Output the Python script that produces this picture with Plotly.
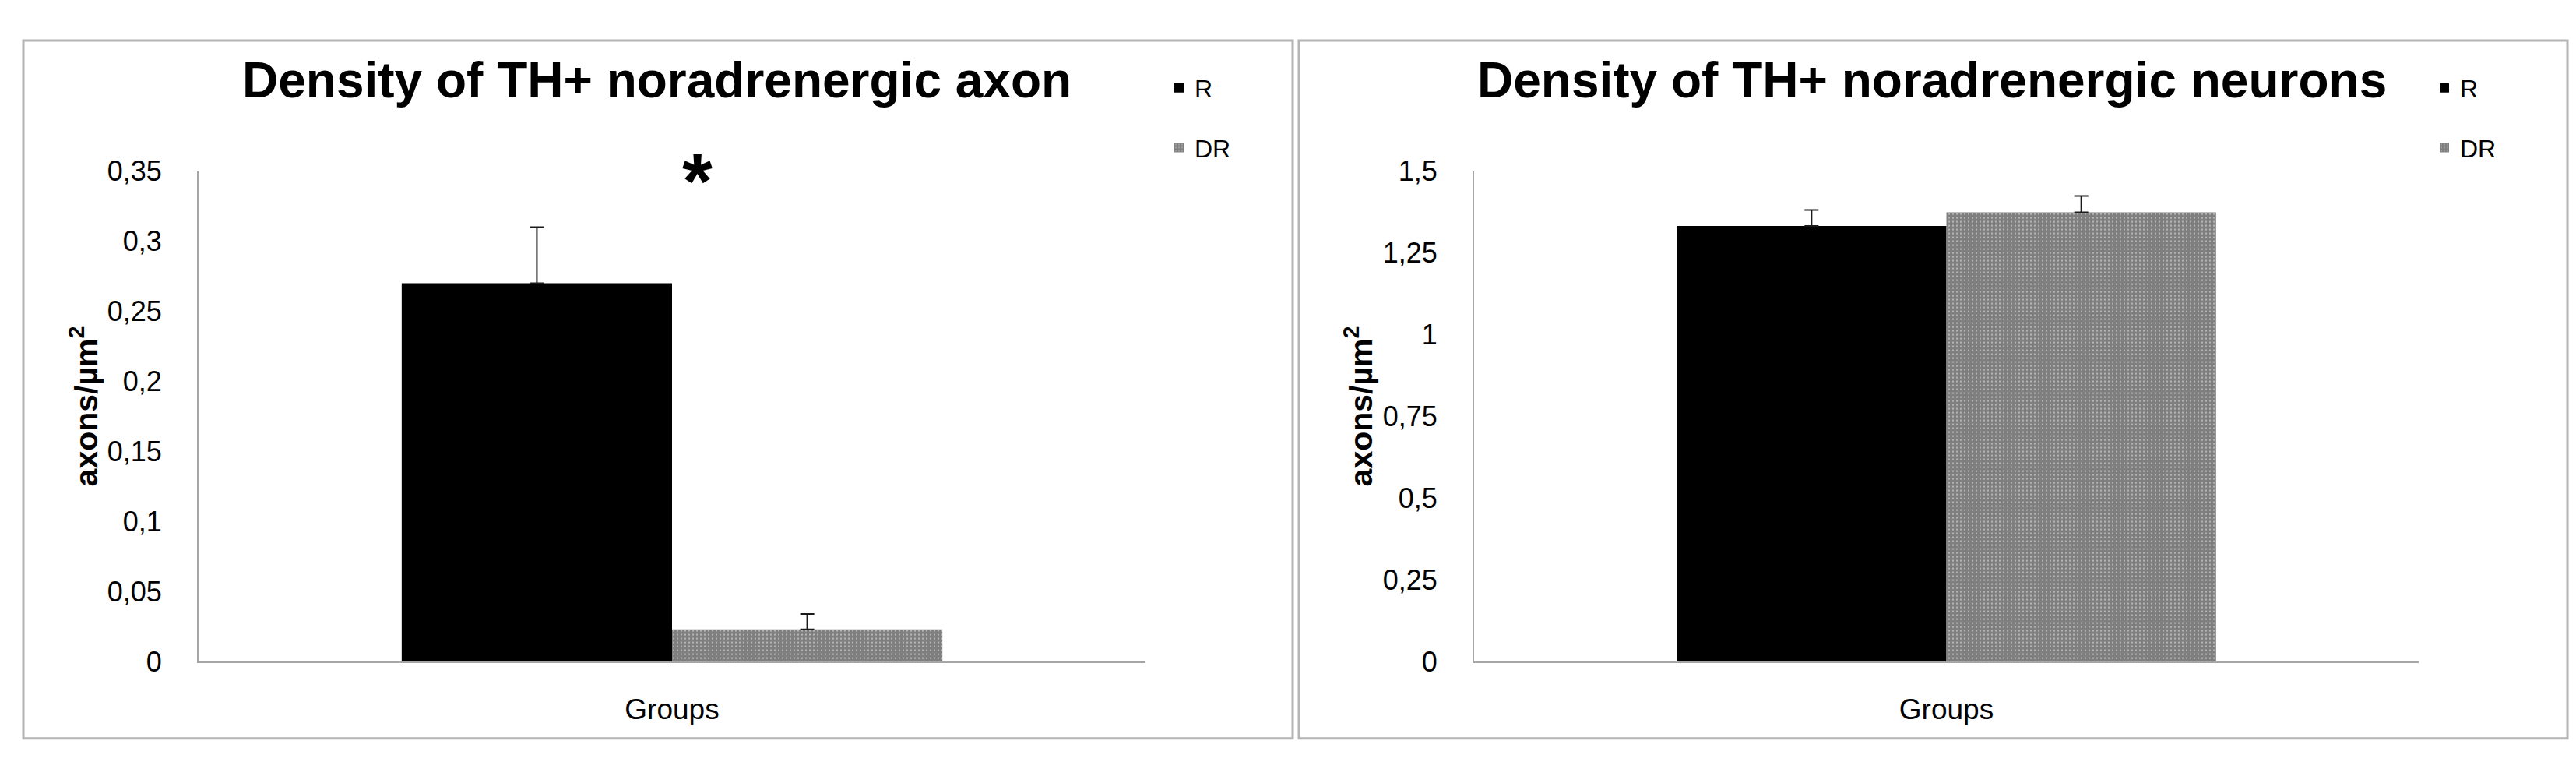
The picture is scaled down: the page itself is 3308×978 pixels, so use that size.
import plotly.graph_objects as go

# ---------------- data ----------------
groups = ["Groups"]
series_names = ["R", "DR"]

axon_density = [0.27, 0.023]      # R, DR
axon_err = [0.04, 0.011]

neuron_density = [1.332, 1.374]   # R, DR
neuron_err = [0.049, 0.05]

axon_tickvals = [0, 0.05, 0.1, 0.15, 0.2, 0.25, 0.3, 0.35]
axon_ticktext = ["0", "0,05", "0,1", "0,15", "0,2", "0,25", "0,3", "0,35"]
neuron_tickvals = [0, 0.25, 0.5, 0.75, 1, 1.25, 1.5]
neuron_ticktext = ["0", "0,25", "0,5", "0,75", "1", "1,25", "1,5"]

titles = ["Density of TH+ noradrenergic axon", "Density of TH+ noradrenergic neurons"]
y_title = "axons/µm<sup>2</sup>"

# ---------------- layout helpers ----------------
W, H = 3308, 978
def px(x):
    return x / W
def py(y):
    return 1 - y / H

FONT = "Liberation Sans, Arial, sans-serif"
AXIS_GREY = "#a6a6a6"
FRAME_GREY = "#b4b4b4"

styles = {
    "R": dict(color="#000000"),
    "DR": dict(color="#ffffff",
               pattern=dict(shape=".", fgcolor="#000000", bgcolor="#ffffff",
                            size=5, solidity=0.85, fillmode="overlay")),
}

fig = go.Figure()

panels = [
    dict(vals=axon_density, errs=axon_err, xa="x", ya="y", legend="legend", tag="1"),
    dict(vals=neuron_density, errs=neuron_err, xa="x2", ya="y2", legend="legend2", tag="2"),
]

for p in panels:
    for i, name in enumerate(series_names):
        fig.add_trace(go.Bar(
            x=groups,
            y=[p["vals"][i]],
            name=name,
            xaxis=p["xa"], yaxis=p["ya"],
            legend=p["legend"],
            legendgroup=name + p["tag"],
            marker=dict(line=dict(width=0), **styles[name]),
            error_y=dict(type="data", symmetric=False,
                         array=[p["errs"][i]], arrayminus=[0],
                         color="#1a1a1a", thickness=2, width=9),
        ))

axis_common_x = dict(showline=True, linecolor=AXIS_GREY, linewidth=2,
                     ticks="", showgrid=False, zeroline=False,
                     tickfont=dict(family=FONT, size=37, color="#000"),
                     ticklabelstandoff=28)
axis_common_y = dict(showline=True, linecolor=AXIS_GREY, linewidth=2,
                     ticks="", showgrid=False, zeroline=False,
                     tickfont=dict(family=FONT, size=36, color="#000"),
                     ticklabelstandoff=38)

y_dom = [py(857), py(200)]

fig.update_layout(
    width=W, height=H,
    margin=dict(l=0, r=0, t=0, b=0),
    paper_bgcolor="white", plot_bgcolor="white",
    barmode="group", bargap=0.429, bargroupgap=0,
    font=dict(family=FONT, color="#000"),
    xaxis=dict(domain=[px(247), px(1463)], anchor="y", **axis_common_x),
    yaxis=dict(domain=y_dom, anchor="x", range=[0, 0.35],
               tickvals=axon_tickvals, ticktext=axon_ticktext, **axis_common_y),
    xaxis2=dict(domain=[px(1885), px(3098)], anchor="y2", **axis_common_x),
    yaxis2=dict(domain=y_dom, anchor="x2", range=[0, 1.5],
                tickvals=neuron_tickvals, ticktext=neuron_ticktext, **axis_common_y),
    legend=dict(x=px(1486), y=py(60), xanchor="left", yanchor="top",
                font=dict(family=FONT, size=32, color="#000"),
                tracegroupgap=32, bgcolor="rgba(0,0,0,0)"),
    legend2=dict(x=px(3111), y=py(60), xanchor="left", yanchor="top",
                 font=dict(family=FONT, size=32, color="#000"),
                 tracegroupgap=32, bgcolor="rgba(0,0,0,0)"),
    showlegend=True,
)

# panel frames
for x0, x1 in [(22, 1652), (1660, 3289)]:
    fig.add_shape(type="rect", xref="paper", yref="paper",
                  x0=px(x0), x1=px(x1), y0=py(960), y1=py(25),
                  line=dict(color=FRAME_GREY, width=3), fillcolor="rgba(0,0,0,0)",
                  layer="below")

# chart titles
for cx, txt in [(835, titles[0]), (2473, titles[1])]:
    fig.add_annotation(x=px(cx), y=py(78), xref="paper", yref="paper",
                       text="<b>" + txt + "</b>", showarrow=False,
                       xanchor="center", yanchor="middle",
                       font=dict(family=FONT, size=64, color="#000"))

# y axis titles
for cx in [100, 1737]:
    fig.add_annotation(x=px(cx), y=py(515), xref="paper", yref="paper",
                       text="<b>" + y_title + "</b>", showarrow=False,
                       textangle=-90, xanchor="center", yanchor="middle",
                       font=dict(family=FONT, size=41, color="#000"))

# significance asterisk
fig.add_annotation(x=px(887), y=py(213), xref="paper", yref="paper",
                   text="<b>*</b>", showarrow=False,
                   xanchor="center", yanchor="middle",
                   font=dict(family=FONT, size=100, color="#000"))

fig.write_html("out.html")
